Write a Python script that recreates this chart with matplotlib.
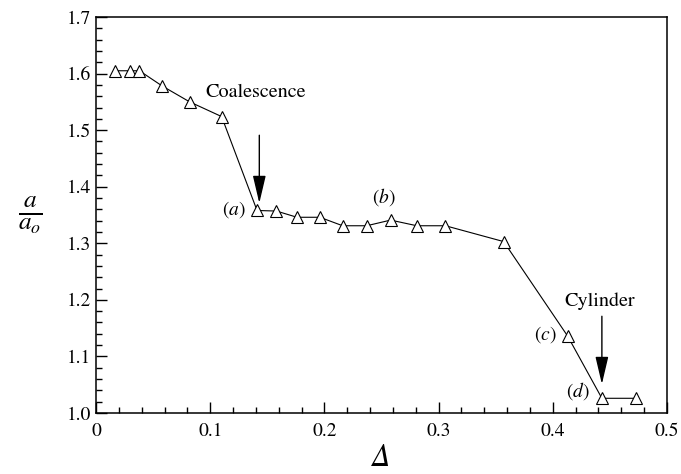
"""Bubble radius ratio a/a_o against Delta, with coalescence and cylinder marks."""
import matplotlib
matplotlib.use("Agg")
import matplotlib.pyplot as plt
from matplotlib.ticker import MultipleLocator

plt.rcParams["font.family"] = ["STIXGeneral", "DejaVu Serif"]
plt.rcParams["mathtext.fontset"] = "stix"

delta = [0.017, 0.030, 0.038, 0.058, 0.082, 0.110, 0.141, 0.158, 0.176,
         0.196, 0.216, 0.237, 0.258, 0.281, 0.306, 0.357, 0.413, 0.443, 0.473]
ratio = [1.605, 1.605, 1.605, 1.578, 1.550, 1.524, 1.358, 1.357, 1.346,
         1.346, 1.331, 1.331, 1.341, 1.331, 1.331, 1.303, 1.136, 1.026, 1.026]

xticks = [0, 0.1, 0.2, 0.3, 0.4, 0.5]
xticklabels = ["0", "0.1", "0.2", "0.3", "0.4", "0.5"]
yticks = [1.0, 1.1, 1.2, 1.3, 1.4, 1.5, 1.6, 1.7]
yticklabels = ["1.0", "1.1", "1.2", "1.3", "1.4", "1.5", "1.6", "1.7"]

# point labels: (text, x, y, ha)
point_labels = [
    ("$(a)$", 0.131, 1.359, "right"),
    ("$(b)$", 0.252, 1.382, "center"),
    ("$(c)$", 0.403, 1.138, "right"),
    ("$(d)$", 0.432, 1.038, "right"),
]

fig = plt.figure(figsize=(6.81, 4.74), dpi=100)
ax = fig.add_axes([0.141, 0.1287, 0.9794 - 0.141, 0.9641 - 0.1287])

ax.plot(delta, ratio, color="black", linewidth=0.8, marker="^",
        markersize=9, markerfacecolor="white", markeredgecolor="black",
        markeredgewidth=0.8, zorder=3)

for txt, x, y, ha in point_labels:
    ax.text(x, y, txt, fontsize=14, ha=ha, va="center")

arrow = dict(arrowstyle="-|>,head_length=1.7,head_width=0.4",
             color="black", linewidth=1.0, shrinkA=0, shrinkB=0,
             mutation_scale=10)
ax.annotate("", xy=(0.143, 1.371), xytext=(0.143, 1.491), arrowprops=arrow)
ax.text(0.096, 1.566, "Coalescence", fontsize=14.5, ha="left", va="center")
ax.annotate("", xy=(0.443, 1.051), xytext=(0.443, 1.171), arrowprops=arrow)
ax.text(0.441, 1.197, "Cylinder", fontsize=14.5, ha="center", va="center")

ax.set_xlim(0, 0.5)
ax.set_ylim(1.0, 1.7)
ax.set_xticks(xticks)
ax.set_xticklabels(xticklabels)
ax.set_yticks(yticks)
ax.set_yticklabels(yticklabels)
ax.xaxis.set_minor_locator(MultipleLocator(0.02))
ax.yaxis.set_minor_locator(MultipleLocator(0.02))
ax.tick_params(which="both", direction="in", labelsize=14, width=1.0)
ax.tick_params(which="major", length=8)
ax.tick_params(which="minor", length=4)
ax.tick_params(axis="x", pad=7)
for s in ax.spines.values():
    s.set_linewidth(1.1)

ax.set_xlabel("Δ", fontsize=22, fontstyle="italic", labelpad=3)
ax.set_ylabel(r"$\frac{a}{a_o}$", fontsize=26, rotation=0, labelpad=26,
              va="center")

fig.savefig("out.png", dpi=100)
